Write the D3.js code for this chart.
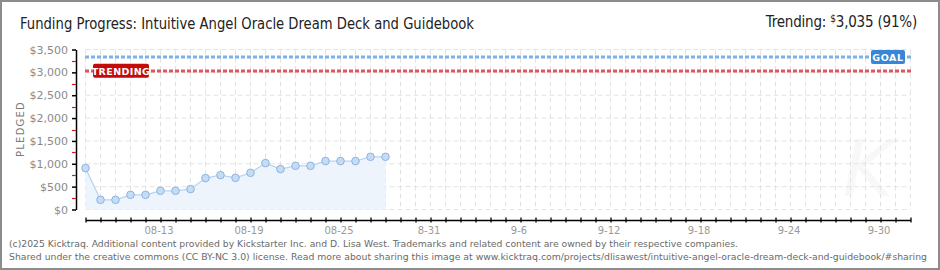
<!DOCTYPE html>
<html>
<head>
<meta charset="utf-8">
<style>
body{margin:0;background:#fff;}
svg text{font-family:"DejaVu Sans",sans-serif;}
.grid line{stroke:#e3e3e3;stroke-width:1;stroke-dasharray:5,3;}
.axis path,.axis line{stroke:#000;}
.axis text{fill:#8a8a8a;font-size:11px;}
.xlab text{fill:#9a9a9a;font-size:10px;}
.narrow{font-family:"DejaVu Sans Condensed","Liberation Sans Narrow",sans-serif !important;}
</style>
<script src="https://cdn.jsdelivr.net/npm/d3@7"></script>
</head>
<body>
<svg id="chart"></svg>
<script>
// pledged per day
var days = ["2025-08-08","2025-08-09","2025-08-10","2025-08-11","2025-08-12","2025-08-13","2025-08-14",
	"2025-08-15","2025-08-16","2025-08-17","2025-08-18","2025-08-19","2025-08-20","2025-08-21",
	"2025-08-22","2025-08-23","2025-08-24","2025-08-25","2025-08-26","2025-08-27","2025-08-28"];
var pledged = [906,212,212,321,321,409,409,446,687,752,693,803,1015,884,956,956,1059,1059,1059,1153,1153];
var tickDays = ["2025-08-13","2025-08-19","2025-08-25","2025-08-31","2025-09-06","2025-09-12","2025-09-18","2025-09-24","2025-09-30"];
var tickLabels = ["08-13","08-19","08-25","8-31","9-6","9-12","9-18","9-24","9-30"];
var yTicks = [0,500,1000,1500,2000,2500,3000,3500];
var yMinor = [250,750,1250,1750,2250,2750,3250];
var goal = 3335;
var trending = 3035;

var W = 940, H = 270;
var parse = d3.timeParse("%Y-%m-%d");
var data = days.map(function(d,i){ return {date: parse(d), v: pledged[i]}; });

var x = d3.scaleTime().domain([parse("2025-08-08"), parse("2025-10-02")]).range([85.5, 910.5]);
var y = d3.scaleLinear().domain([0,3500]).range([209.5, 49.5]);

var svg = d3.select("#chart").attr("width", W).attr("height", H);

svg.append("rect").attr("x",1).attr("y",1).attr("width",W-2).attr("height",H-2)
	.attr("fill","#fff").attr("stroke","#8c8c8c").attr("stroke-width",2);

// watermark
svg.append("text").attr("x",868).attr("y",196).attr("text-anchor","middle")
	.attr("font-size",78).attr("font-style","italic").attr("fill","#f8f8f8").text("K");

// grid
var grid = svg.append("g").attr("class","grid");
grid.selectAll(".gy").data(yTicks).enter().append("line")
	.attr("x1",85.5).attr("x2",910.5).attr("y1",function(d){return y(d);}).attr("y2",function(d){return y(d);});
grid.selectAll(".gx").data(d3.timeDay.range(x.domain()[0], d3.timeDay.offset(x.domain()[1],1))).enter().append("line")
	.attr("x1",function(d){return x(d);}).attr("x2",function(d){return x(d);})
	.attr("y1",y(3500)).attr("y2",y(0));

// area + line + points
svg.append("path").datum(data).attr("fill","#edf4fc")
	.attr("d", d3.area().x(function(d){return x(d.date);}).y0(y(0)).y1(function(d){return y(d.v);}));
svg.append("path").datum(data).attr("fill","none").attr("stroke","#b7d3f2").attr("stroke-width",1.2)
	.attr("d", d3.line().x(function(d){return x(d.date);}).y(function(d){return y(d.v);}));
svg.selectAll(".pt").data(data).enter().append("circle")
	.attr("cx",function(d){return x(d.date);}).attr("cy",function(d){return y(d.v);})
	.attr("r",3.8).attr("fill","#c4dcf6").attr("stroke","#8fb3de").attr("stroke-width",1);

// goal & trending lines
svg.append("line").attr("x1",85).attr("x2",911).attr("y1",Math.round(y(goal))).attr("y2",Math.round(y(goal)))
	.attr("stroke","#7db1ea").attr("stroke-width",3).attr("stroke-dasharray","4,2");
svg.append("line").attr("x1",85).attr("x2",911).attr("y1",Math.round(y(trending))).attr("y2",Math.round(y(trending)))
	.attr("stroke","#da5a5e").attr("stroke-width",3).attr("stroke-dasharray","4,2");

svg.append("rect").attr("x",871).attr("y",y(goal)-7).attr("width",34).attr("height",14).attr("rx",2)
	.attr("fill","#3a86d6");
svg.append("text").attr("x",888).attr("y",y(goal)+4).attr("text-anchor","middle")
	.attr("font-size",9.5).attr("font-weight","bold").attr("fill","#fff").attr("letter-spacing",0.6).text("GOAL");
svg.append("rect").attr("x",93).attr("y",y(trending)-7).attr("width",56).attr("height",14).attr("rx",2)
	.attr("fill","#c40b0b");
svg.append("text").attr("x",121).attr("y",y(trending)+4).attr("text-anchor","middle")
	.attr("font-size",9.5).attr("font-weight","bold").attr("fill","#fff").attr("letter-spacing",0.4).text("TRENDING");

// y axis
var yAxis = svg.append("g").attr("class","axis").attr("transform","translate(76,0)")
	.call(d3.axisLeft(y).tickValues(yTicks).tickSize(4).tickSizeOuter(0).tickPadding(4).tickFormat(d3.format("$,")));
yAxis.select(".domain").attr("stroke-width",1.5);
yAxis.selectAll(".tick line").attr("stroke-width",1.5);
svg.selectAll(".minor").data(yMinor).enter().append("line")
	.attr("x1",72).attr("x2",76).attr("y1",function(d){return Math.round(y(d))+0.5;}).attr("y2",function(d){return Math.round(y(d))+0.5;})
	.attr("stroke","#e01818").attr("stroke-width",1.2);

// x axis
var xAxis = svg.append("g").attr("class","axis").attr("transform","translate(0,220)")
	.call(d3.axisBottom(x).ticks(d3.timeDay.every(1)).tickSize(2).tickSizeOuter(0).tickFormat(""));
xAxis.select(".domain").attr("stroke-width",1.5);
xAxis.selectAll(".tick line").attr("y1",-2.5).attr("y2",2.5).attr("stroke-width",1.3);

var xl = svg.append("g").attr("class","xlab").attr("transform","translate(-2,224)")
	.call(d3.axisBottom(x).tickValues(tickDays.map(parse)).tickSize(0).tickPadding(3)
		.tickFormat(function(d,i){return tickLabels[i];}));
xl.select(".domain").remove();

// y label
svg.append("text").attr("transform","translate(24,129) rotate(-90)").attr("text-anchor","middle")
	.attr("font-size",10).attr("fill","#7a7a7a").attr("letter-spacing",1.2).text("PLEDGED");

// titles
svg.append("text").attr("class","narrow").attr("x",20).attr("y",29).attr("font-size",15).attr("fill","#222")
	.attr("textLength",454).attr("lengthAdjust","spacingAndGlyphs")
	.text("Funding Progress: Intuitive Angel Oracle Dream Deck and Guidebook");
var tr = svg.append("text").attr("class","narrow").attr("x",917).attr("y",27).attr("text-anchor","end")
	.attr("font-size",15).attr("fill","#222").attr("letter-spacing",-0.2);
tr.append("tspan").text("Trending:  ");
tr.append("tspan").attr("font-size",10).attr("dy",-5).text("$");
tr.append("tspan").attr("dy",5).text(d3.format(",")(trending) + " (91%)");

// footer
svg.append("text").attr("class","narrow").attr("x",9).attr("y",246.5).attr("font-size",9.5).attr("fill","#6a6a6a")
	.attr("textLength",729).attr("lengthAdjust","spacingAndGlyphs")
	.text("(c)2025 Kicktraq. Additional content provided by Kickstarter Inc. and D. Lisa West. Trademarks and related content are owned by their respective companies.");
svg.append("text").attr("class","narrow").attr("x",9).attr("y",259.5).attr("font-size",9.5).attr("fill","#6a6a6a")
	.attr("textLength",918).attr("lengthAdjust","spacingAndGlyphs")
	.text("Shared under the creative commons (CC BY-NC 3.0) license. Read more about sharing this image at www.kicktraq.com/projects/dlisawest/intuitive-angel-oracle-dream-deck-and-guidebook/#sharing");
</script>
</body>
</html>
